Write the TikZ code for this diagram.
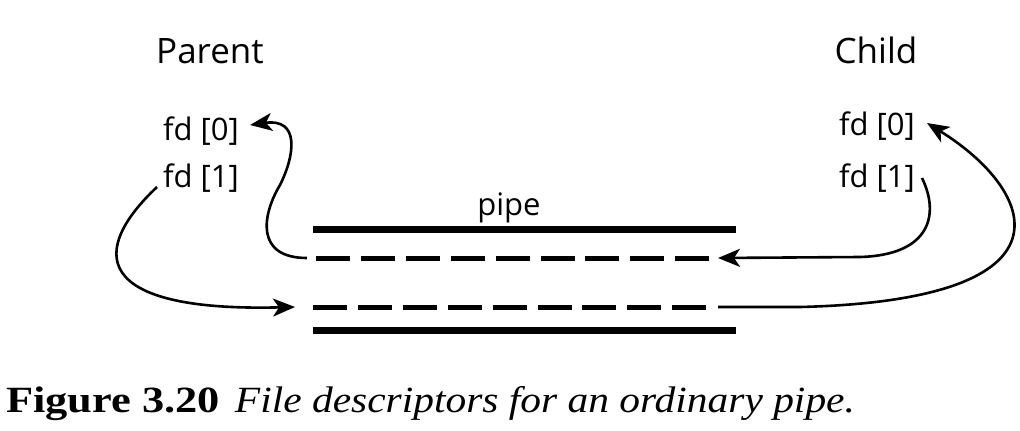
\documentclass[tikz,border=0pt]{standalone}
\usepackage{fontspec}
\usepackage{tikz}
\usetikzlibrary{arrows.meta}
\newfontfamily\diagfont{Open Sans}
\newfontfamily\capbf[FakeStretch=1.2]{Liberation Serif}
\newfontfamily\capit[FakeStretch=1.12]{Liberation Serif}
\tikzstyle{heading} = [font=\diagfont\fontsize{35}{40}\selectfont, inner sep=0pt, anchor=base]
\tikzstyle{fdtext} = [font=\diagfont\fontsize{31}{36}\selectfont, inner sep=0pt]
\tikzstyle{wall} = [line width=7pt]
\tikzstyle{channel} = [line width=5pt, dash pattern=on 34pt off 10.9pt]
\tikzstyle{flow} = [line width=2.6pt, -{Stealth[length=22pt, width=18pt, inset=6pt]}]

\begin{document}
\begin{tikzpicture}[x=1pt, y=-1pt]
      \useasboundingbox (0,0) rectangle (1020,431);
      \node[heading] (parent) at (210,63) {Parent};
      \node[heading] (child) at (876,63) {Child};
      \node[fdtext, anchor=base west] (fd0p) at (163,140) {fd [0]};
      \node[fdtext, anchor=base west] (fd1p) at (163,187) {fd [1]};
      \node[fdtext, anchor=base east] (fd0c) at (915,135) {fd [0]};
      \node[fdtext, anchor=base east] (fd1c) at (915,187) {fd [1]};
      \node[fdtext, anchor=base] (pipe) at (509,215) {pipe};
      \coordinate (topL) at (313,229);
      \coordinate (topR) at (736,229);
      \coordinate (readL) at (316,258);
      \coordinate (readR) at (709,258);
      \coordinate (writeL) at (313,307);
      \coordinate (writeR) at (707,307);
      \coordinate (botL) at (313,330);
      \coordinate (botR) at (736,330);
      \draw[wall] (topL) -- (topR);
      \draw[channel] (readL) -- (readR);
      \draw[channel] (writeL) -- (writeR);
      \draw[wall] (botL) -- (botR);
      \draw[flow] ([xshift=-6]fd1p.base west) .. controls (90,250) and (90,312) .. ([xshift=-18]writeL);
      \draw[flow] ([xshift=-9]readL) .. controls (255,258) and (262,215) .. (280,185)
        .. controls (295,155) and (300,118) .. ([shift={(11,-15)}]fd0p.base east);
      \draw[flow] ([shift={(7,-9)}]fd1c.base east) .. controls (940,215) and (930,255) .. (860,257)
        -- ([xshift=9]readR);
      \draw[flow] ([xshift=11]writeR) -- (800,307) .. controls (1085,300) and (1035,190) .. ([shift={(12,-12)}]fd0c.base east);
      \node[anchor=base west, inner sep=0pt] (caption) at (6,412)
        {{\capbf\bfseries\fontsize{37}{40}\selectfont Figure 3.20}\hspace{15pt}{\capit\itshape\fontsize{37}{40}\selectfont File descriptors for an ordinary pipe.}};
    \end{tikzpicture}
\end{document}
